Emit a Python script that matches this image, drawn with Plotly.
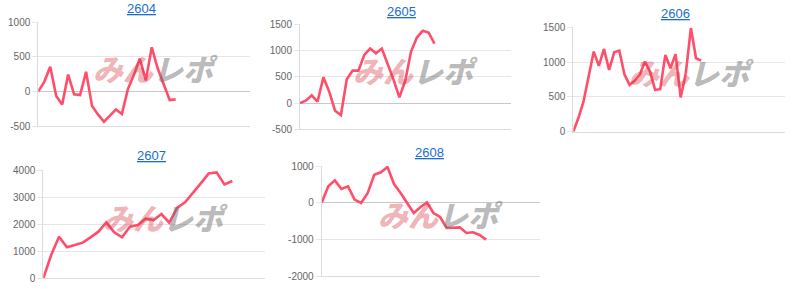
import plotly.graph_objects as go

W, H = 800, 289

titles = ["2604", "2605", "2606", "2607", "2608"]

d2604 = [0, 139, 356, -67, -188, 245, -43, -53, 284, -212, -332, -438, -351, -260,
         -327, 34, 236, 476, 159, 639, 332, 91, -125, -115]
d2605 = [0, 45, 146, 25, 490, 217, -146, -229, 452, 618, 618, 917, 1038, 949, 1038,
         758, 446, 108, 420, 981, 1248, 1376, 1344, 1134]
d2606 = [0, 196, 435, 793, 1151, 946, 1189, 888, 1141, 1165, 826, 673, 731, 817, 1008,
         864, 602, 611, 1103, 912, 1113, 492, 841, 1490, 1055, 1022]
d2607 = [0, 861, 1538, 1144, 1230, 1316, 1513, 1722, 2066, 1697, 1513, 1906, 1968, 2202,
         2153, 2374, 2054, 2608, 2804, 3137, 3506, 3875, 3911, 3469, 3592]
d2608 = [0, 445, 609, 373, 445, 82, -9, 264, 764, 827, 973, 509, 264, -9, -282, -127, 9,
         -282, -391, -691, -691, -673, -827, -809, -882, -1009]

series = [d2604, d2605, d2606, d2607, d2608]

ticks_top1 = [-500, 0, 500, 1000]
ticks_top2 = [-500, 0, 500, 1000, 1500]
ticks_top3 = [0, 500, 1000, 1500]
ticks_bot1 = [0, 1000, 2000, 3000, 4000]
ticks_bot2 = [-2000, -1000, 0, 1000]
tick_sets = [ticks_top1, ticks_top2, ticks_top3, ticks_bot1, ticks_bot2]

# layout (pixel boxes of plot areas: left, right, top, bottom) and x spans
boxes = [
    (38.3, 250.0, 22.3, 126.0),
    (300.0, 511.0, 24.3, 129.3),
    (573.3, 785.0, 27.3, 131.7),
    (43.3, 265.0, 170.0, 278.3),
    (321.7, 540.0, 166.0, 276.0),
]
xmax = [35.45, 36.1, 41.4, 28.15, 33.2]
title_pos = [(141, 8.5), (402, 11), (675, 14), (151, 155), (429, 152)]
wm_pos = [(155, 68), (415, 70), (691, 72), (165, 217), (440, 214)]

LINE = "rgb(255,77,106)"
GRID = "#e6e6e6"
FONT = "Liberation Sans, Arial, sans-serif"
WM_TEXT = ("<span style='color:rgba(215,60,70,0.40)'>みん</span>"
           "<span style='color:rgba(110,110,110,0.48)'>レポ</span>")

fig = go.Figure()
layout = dict(
    width=W, height=H, margin=dict(l=0, r=0, t=0, b=0, autoexpand=False),
    paper_bgcolor="white", plot_bgcolor="white", showlegend=False,
    annotations=[],
)

for i, (vals, ticks, box, xm) in enumerate(zip(series, tick_sets, boxes, xmax)):
    n = i + 1
    xa = "x" if n == 1 else f"x{n}"
    ya = "y" if n == 1 else f"y{n}"
    L, R, T, B = box
    fig.add_trace(go.Scatter(
        x=list(range(len(vals))), y=vals, mode="lines",
        line=dict(color=LINE, width=2.6), xaxis=xa, yaxis=ya,
        hoverinfo="skip",
    ))
    xkey = "xaxis" if n == 1 else f"xaxis{n}"
    ykey = "yaxis" if n == 1 else f"yaxis{n}"
    layout[xkey] = dict(
        domain=[L / W, R / W], range=[0, xm], anchor=ya,
        showgrid=False, zeroline=False, showticklabels=False,
        showline=True, linecolor="#dcdcdc", linewidth=1, ticks="",
    )
    layout[ykey] = dict(
        domain=[1 - B / H, 1 - T / H], range=[ticks[0], ticks[-1]], anchor=xa,
        tickvals=ticks, ticktext=[str(t) for t in ticks],
        showgrid=True, gridcolor=GRID, gridwidth=1,
        zeroline=True, zerolinecolor="#c8c8c8", zerolinewidth=1,
        showline=True, linecolor="#dcdcdc", linewidth=1,
        ticks="outside", ticklen=5, tickcolor=GRID,
        tickfont=dict(family=FONT, size=10, color="#666666"),
    )
    tx, ty = title_pos[i]
    layout["annotations"].append(dict(
        text=f"<u>{titles[i]}</u>", x=tx / W, y=1 - ty / H, xref="paper", yref="paper",
        xanchor="center", yanchor="middle", showarrow=False,
        font=dict(family=FONT, size=13, color="#1a6dd0"),
    ))
    wx, wy = wm_pos[i]
    layout["annotations"].append(dict(
        text=WM_TEXT, x=wx / W, y=1 - wy / H, xref="paper", yref="paper",
        xanchor="center", yanchor="middle", showarrow=False,
        font=dict(family="Noto Sans CJK JP", size=30, weight=900, style="italic"),
    ))

fig.update_layout(**layout)
fig.write_html("out.html")
